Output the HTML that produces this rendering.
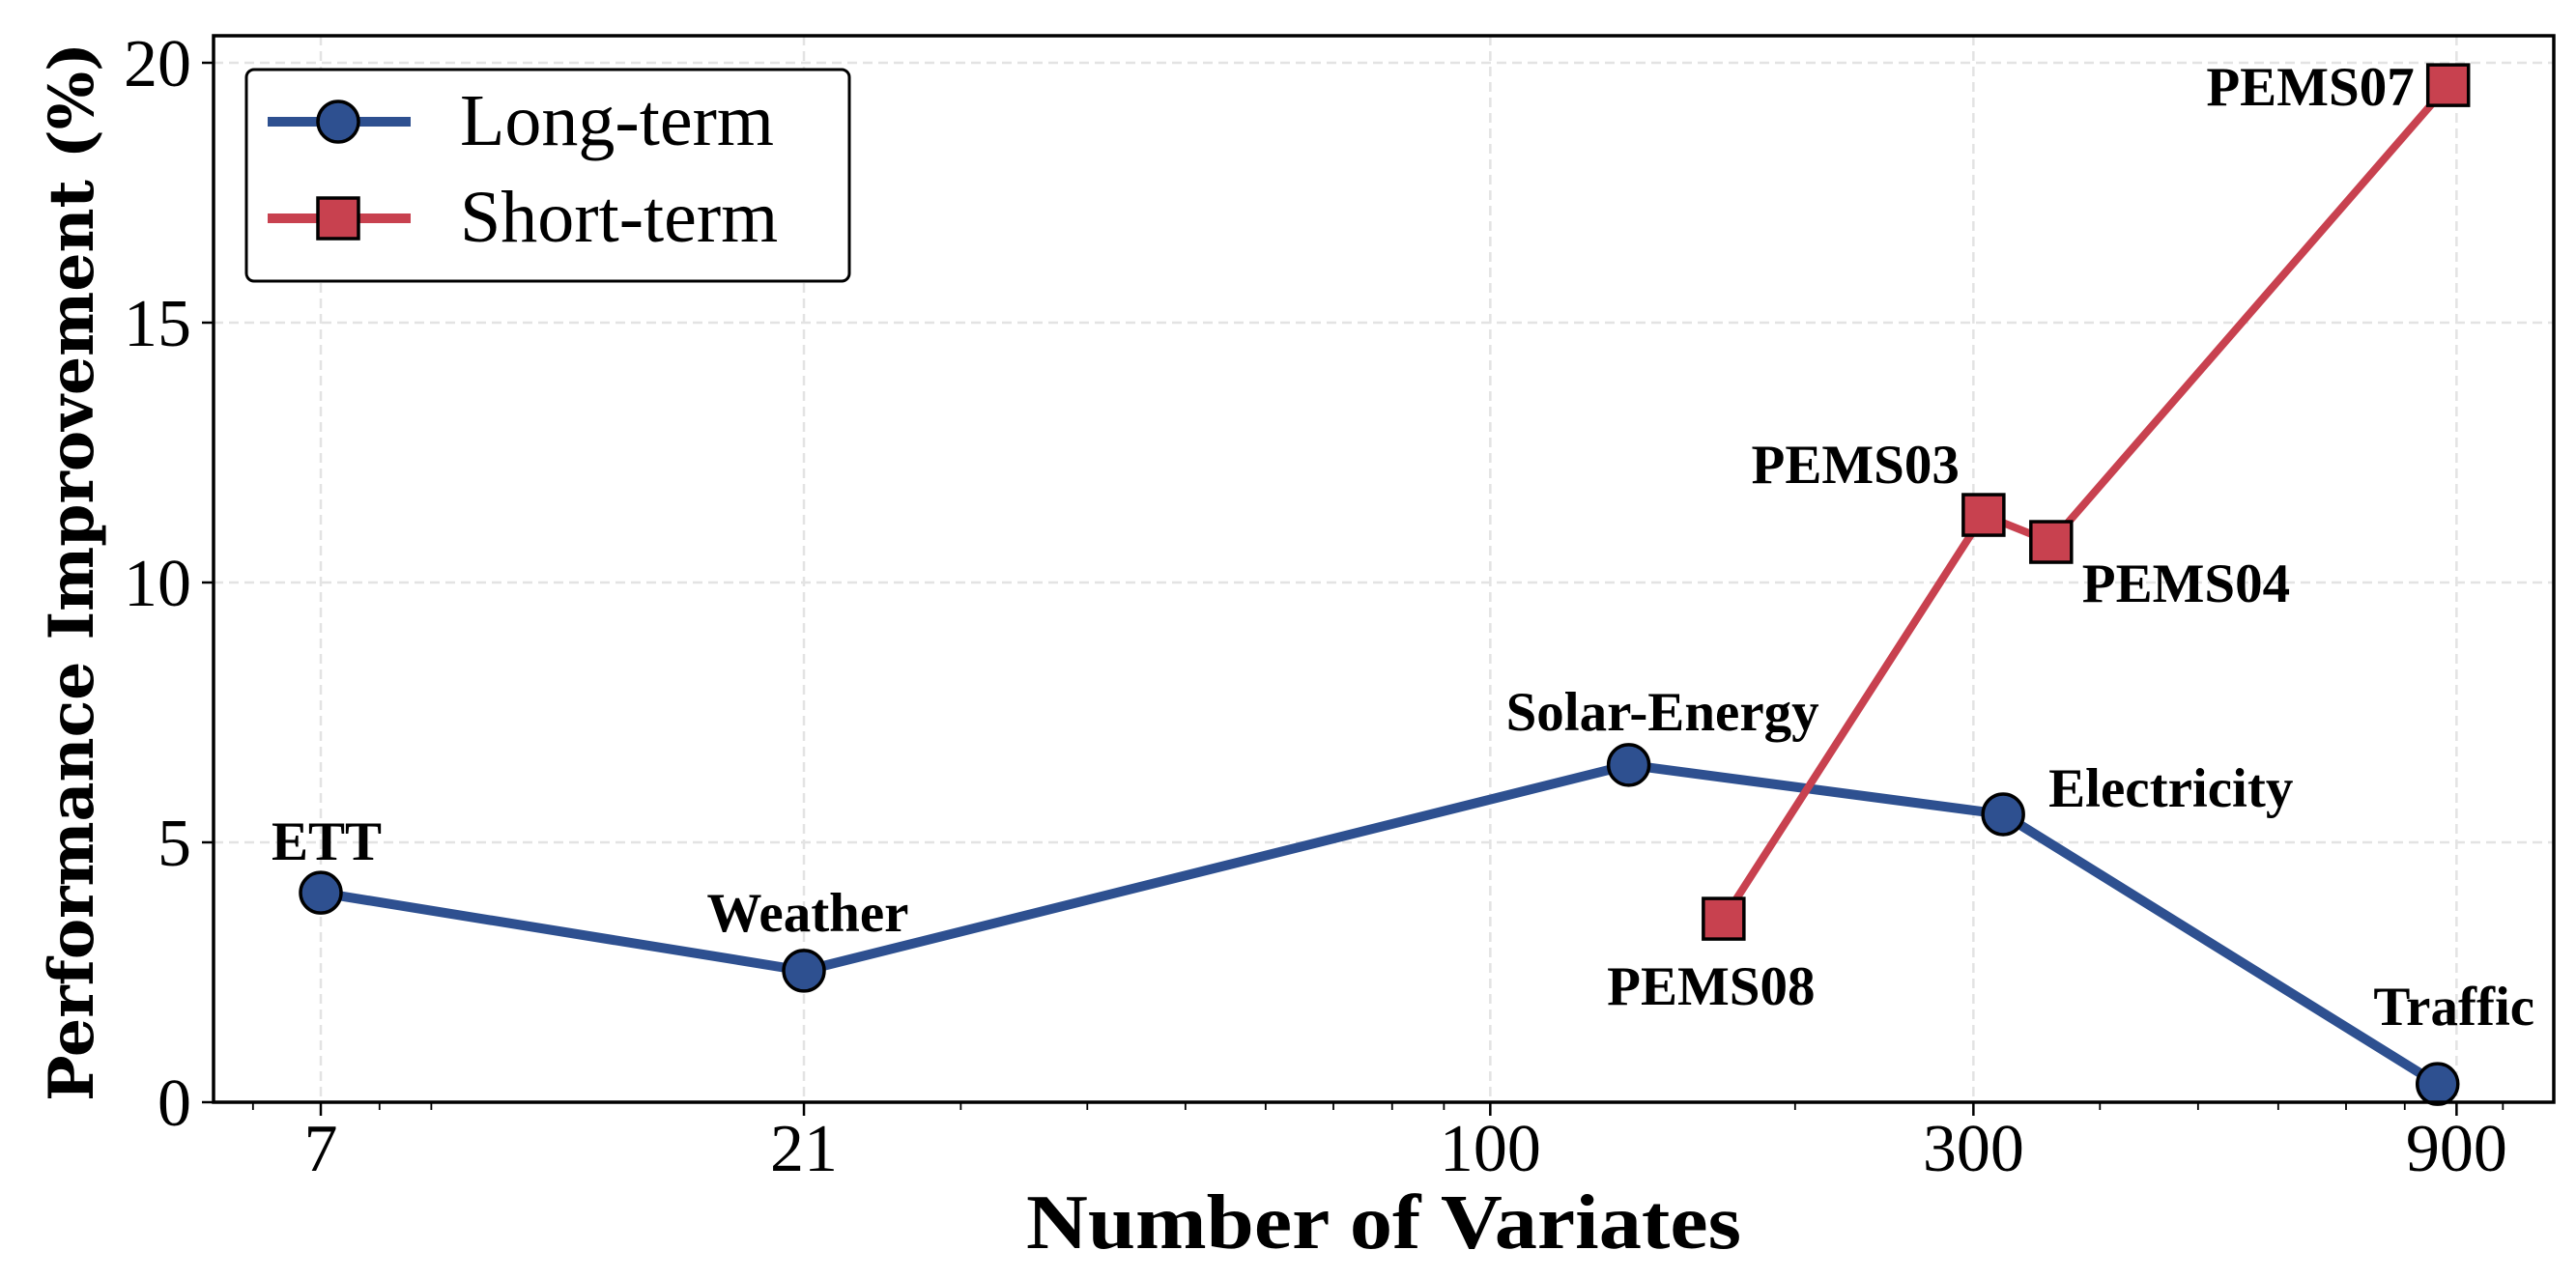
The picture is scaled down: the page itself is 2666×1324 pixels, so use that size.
<!DOCTYPE html>
<html><head><meta charset="utf-8"><style>
html,body{margin:0;padding:0;background:#fff}
svg{display:block}
text{font-family:"Liberation Serif",serif;fill:#000}
</style></head><body>
<svg id="chart" width="2666" height="1324" viewBox="0 0 2666 1324" xmlns="http://www.w3.org/2000/svg">
<g id="grid"></g>
<g id="ticks"></g>
<g id="series"></g>
<g id="labels"></g>
<rect x="221" y="37" width="2422" height="1104" fill="none" stroke="#000" stroke-width="3.5"/>
<text x="1432" y="1292" font-size="80" font-weight="bold" text-anchor="middle" textLength="740" lengthAdjust="spacingAndGlyphs">Number of Variates</text>
<text transform="translate(96,592) rotate(-90)" font-size="64" font-weight="bold" text-anchor="middle" style="font-family:'DejaVu Serif',serif" textLength="1096" lengthAdjust="spacingAndGlyphs">Performance Improvement (%)</text>
<g>
<rect x="255" y="72" width="624" height="219" rx="8" fill="#fff" stroke="#000" stroke-width="3"/>
<line x1="277" y1="126" x2="425" y2="126" stroke="#2E5090" stroke-width="10"/>
<circle cx="350" cy="126" r="21" fill="#2E5090" stroke="#000" stroke-width="3.5"/>
<text x="476" y="150" font-size="76">Long-term</text>
<line x1="277" y1="226" x2="425" y2="226" stroke="#C8414F" stroke-width="10"/>
<rect x="329" y="205" width="42" height="42" fill="#C8414F" stroke="#000" stroke-width="3.5"/>
<text x="476" y="250" font-size="76">Short-term</text>
</g>
</svg>
<script>
const longX = [7, 21, 137, 321, 862];
const longY = [4.03, 2.53, 6.49, 5.54, 0.35];
const longNames = ["ETT", "Weather", "Solar-Energy", "Electricity", "Traffic"];
const shortX = [170, 307, 358, 883];
const shortY = [3.53, 11.3, 10.78, 19.57];
const shortNames = ["PEMS08", "PEMS03", "PEMS04", "PEMS07"];
const xTicks = [7, 21, 100, 300, 900];
const xMinor = [6, 8, 9, 30, 40, 50, 60, 70, 80, 90, 200, 400, 500, 600, 700, 800, 1000];
const yTicks = [0, 5, 10, 15, 20];

const L = 221, R = 2643, T = 37, B = 1141;
const px7 = 332, perDec = 1048;
function sx(v){ return px7 + Math.log10(v/7)*perDec; }
function sy(v){ return B - v*53.8; }
const NS = "http://www.w3.org/2000/svg";
function mk(parent, tag, attrs){ const e=document.createElementNS(NS,tag); for(const k in attrs) e.setAttribute(k,attrs[k]); document.getElementById(parent).appendChild(e); return e; }

xTicks.forEach(t=>{
  const x=sx(t);
  const g=mk('grid','line',{x1:x,y1:T,x2:x,y2:B,stroke:'#e3e3e3','stroke-width':2.5,'stroke-dasharray':'10,6'});
  
  
  const tk=mk('ticks','line',{x1:x,y1:B,x2:x,y2:B+14,stroke:'#000','stroke-width':2.5});
  
  
  const lb=mk('ticks','text',{x:x,y:1212,'font-size':70,'text-anchor':'middle'});
  lb.textContent=t;
  
  
});
xMinor.forEach(t=>{
  const x=sx(t); if(x<L||x>R) return;
  const tk=mk('ticks','line',{x1:x,y1:B,x2:x,y2:B+8,stroke:'#000','stroke-width':1.8});
  
  
});
yTicks.forEach(t=>{
  const y=sy(t);
  const g=mk('grid','line',{x1:L,y1:y,x2:R,y2:y,stroke:'#e3e3e3','stroke-width':2.5,'stroke-dasharray':'10,6'});
  
  
  const tk=mk('ticks','line',{x1:L-12,y1:y,x2:L,y2:y,stroke:'#000','stroke-width':2.5});
  
  
  const lb=mk('ticks','text',{x:198,y:y+24,'font-size':70,'text-anchor':'end'});
  lb.textContent=t;
  
  
});

const lp=mk('series','polyline',{points:longX.map((v,i)=>sx(v)+','+sy(longY[i])).join(' '),fill:'none',stroke:'#2E5090','stroke-width':10,'stroke-linejoin':'round'});


const sp=mk('series','polyline',{points:shortX.map((v,i)=>sx(v)+','+sy(shortY[i])).join(' '),fill:'none',stroke:'#C8414F','stroke-width':8,'stroke-linejoin':'round'});


longX.forEach((v,i)=>{
  const c=mk('series','circle',{cx:sx(v),cy:sy(longY[i]),r:21,fill:'#2E5090',stroke:'#000','stroke-width':3.5});
  
  
});
shortX.forEach((v,i)=>{
  const r=mk('series','rect',{x:sx(v)-21,y:sy(shortY[i])-21,width:42,height:42,fill:'#C8414F',stroke:'#000','stroke-width':3.5});
  
  
});
// label offsets (dx, dy baseline, anchor) relative to point
const longOff = [[6,-34,'middle'],[4,-41,'middle'],[35,-36,'middle'],[47,-8,'start'],[17,-61,'middle']];
const shortOff = [[-13,89,'middle'],[-25,-33,'end'],[32,62,'start'],[-35,21,'end']];
longNames.forEach((n,i)=>{
  const o=longOff[i];
  const t=mk('labels','text',{x:sx(longX[i])+o[0],y:sy(longY[i])+o[1],'font-size':57,'font-weight':'bold','text-anchor':o[2]});
  t.textContent=n;
  
  
});
shortNames.forEach((n,i)=>{
  const o=shortOff[i];
  const t=mk('labels','text',{x:sx(shortX[i])+o[0],y:sy(shortY[i])+o[1],'font-size':57,'font-weight':'bold','text-anchor':o[2]});
  t.textContent=n;
  
  
});
</script>
</body></html>
